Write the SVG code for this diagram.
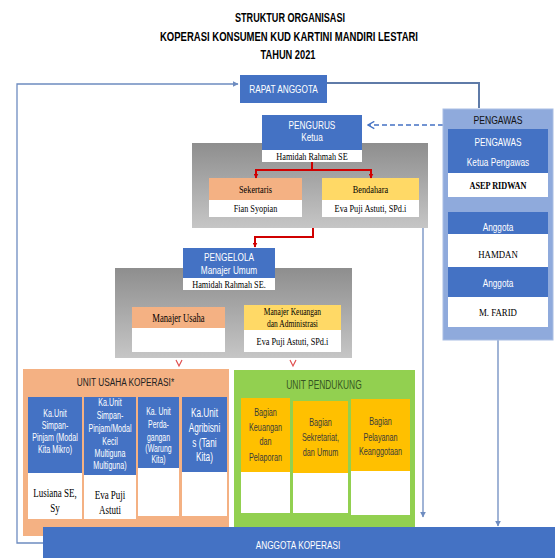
<svg xmlns="http://www.w3.org/2000/svg" width="558" height="558" viewBox="0 0 558 558">
<defs>
<linearGradient id="gray" x1="0" y1="0" x2="0" y2="1">
<stop offset="0" stop-color="#8e8e8e"/>
<stop offset="1" stop-color="#c6c6c6"/>
</linearGradient>
<marker id="arrB" viewBox="0 0 10 10" refX="9" refY="5" markerWidth="6" markerHeight="6" orient="auto" markerUnits="userSpaceOnUse">
<path d="M0,0 L10,5 L0,10 z" fill="#6E8CC0"/>
</marker>
<marker id="arrR" viewBox="0 0 10 10" refX="9" refY="5" markerWidth="5" markerHeight="5" orient="auto" markerUnits="userSpaceOnUse">
<path d="M0,0 L10,5 L0,10 z" fill="#D00000"/>
</marker>
<marker id="chev" viewBox="0 0 10 10" refX="9" refY="5" markerWidth="9" markerHeight="9" orient="auto" markerUnits="userSpaceOnUse">
<path d="M2,1 L9,5 L2,9" fill="none" stroke="#4472C4" stroke-width="1.5"/>
</marker>
</defs>
<style>
.t{font-family:"Liberation Sans",Arial,sans-serif;text-anchor:middle}
.s{font-family:"Liberation Serif","Times New Roman",serif;text-anchor:middle;fill:#000}
.w{fill:#fff}
.blue{fill:#4472C4}
.wh{fill:#fff}
.sal{fill:#F4B183}
.yel{fill:#FFD966}
.org{fill:#FFC000}
.red{fill:none;stroke:#D00000;stroke-width:2}
.con{fill:none;stroke:#6E8CC0;stroke-width:1.3}
</style>
<rect width="558" height="558" fill="#fff"/>

<g id="title" font-weight="bold">
<text class="t" x="290" y="22" font-size="13.5" textLength="110" lengthAdjust="spacingAndGlyphs">STRUKTUR ORGANISASI</text>
<text class="t" x="289" y="41" font-size="13.5" textLength="258" lengthAdjust="spacingAndGlyphs">KOPERASI  KONSUMEN KUD KARTINI MANDIRI LESTARI</text>
<text class="t" x="288" y="59" font-size="13.5" textLength="55" lengthAdjust="spacingAndGlyphs">TAHUN 2021</text>
</g>

<g id="connectors">
<path class="con" d="M43,543 H17 V84 H238" marker-end="url(#arrB)"/>
<path d="M327,83 H479 V108" fill="none" stroke="#5F7BA8" stroke-width="2"/>
<path d="M443,125 H368" fill="none" stroke="#4472C4" stroke-width="1.5" stroke-dasharray="5,3" marker-end="url(#chev)"/>
<path class="con" d="M423,228 V517" marker-end="url(#arrB)"/>
<path class="con" d="M498,340 V526" marker-end="url(#arrB)"/>
</g>

<g id="rapat-anggota">
<rect class="blue" x="240" y="75" width="87" height="28"/>
<text class="t w" x="283.5" y="93" font-size="11" transform="matrix(0.75 0 0 1 70.9 0)">RAPAT ANGGOTA</text>
</g>

<g id="pengurus-panel">
<rect x="192" y="143" width="236" height="85" fill="url(#gray)"/>
</g>

<g id="pengurus">
<rect class="blue" x="262" y="115" width="100" height="35"/>
<rect class="wh" x="262" y="150" width="100" height="12"/>
<text class="t w" x="312" y="129" font-size="11" transform="matrix(0.75 0 0 1 78 0)">PENGURUS</text>
<text class="t w" x="312" y="141.5" font-size="11" transform="matrix(0.75 0 0 1 78 0)">Ketua</text>
<text class="s" x="312" y="160" font-size="11" transform="matrix(0.75 0 0 1 78 0)">Hamidah Rahmah SE</text>
</g>

<g id="sekertaris">
<rect class="sal" x="209" y="178" width="93" height="22"/>
<rect class="wh" x="209" y="200" width="93" height="17"/>
<text class="s" x="255.5" y="193.5" font-size="11" transform="matrix(0.75 0 0 1 63.9 0)">Sekertaris</text>
<text class="s" x="255.5" y="212.5" font-size="11" transform="matrix(0.75 0 0 1 63.9 0)">Fian Syopian</text>
</g>

<g id="bendahara">
<rect class="yel" x="322" y="178" width="97" height="22"/>
<rect class="wh" x="322" y="200" width="97" height="17"/>
<text class="s" x="370.5" y="193.5" font-size="11" transform="matrix(0.75 0 0 1 92.6 0)">Bendahara</text>
<text class="s" x="370.5" y="212.5" font-size="11" transform="matrix(0.75 0 0 1 92.6 0)">Eva Puji Astuti, SPd.i</text>
</g>

<g id="red-connectors">
<path class="red" d="M312,162 V170 M255,170 H372"/>
<path class="red" d="M256,170 V178" marker-end="url(#arrR)"/>
<path class="red" d="M371,170 V178" marker-end="url(#arrR)"/>
<path class="red" d="M313,228 V237 H255 V247" marker-end="url(#arrR)"/>
<path class="red" d="M233,290 V297 M177,297 H294"/>
<path class="red" d="M178,297 V306" marker-end="url(#arrR)"/>
<path class="red" d="M293,297 V305" marker-end="url(#arrR)"/>
<path d="M176,360 L179,366 L182,360" fill="none" stroke="#E05050" stroke-width="1.2"/>
<path d="M290,360 L293,366 L296,360" fill="none" stroke="#E05050" stroke-width="1.2"/>
<path d="M496,200 L500,200 L498,205 z" fill="#D05050"/>
</g>

<g id="pengawas">
<rect x="443" y="109" width="110" height="231" fill="#8FAADC" stroke="#A9BEE3" stroke-width="1"/>
<text class="t" x="498" y="124" font-size="11.5" fill="#111" transform="matrix(0.75 0 0 1 124.5 0)">PENGAWAS</text>
<rect class="blue" x="448" y="129" width="100" height="44"/>
<text class="t w" x="498" y="146" font-size="11" transform="matrix(0.75 0 0 1 124.5 0)">PENGAWAS</text>
<text class="t w" x="498" y="166" font-size="11" transform="matrix(0.75 0 0 1 124.5 0)">Ketua Pengawas</text>
<rect class="wh" x="448" y="173" width="100" height="24"/>
<text class="s" x="498" y="189" font-size="11" font-weight="bold" transform="matrix(0.75 0 0 1 124.5 0)">ASEP RIDWAN</text>
<rect class="blue" x="448" y="212" width="100" height="22"/>
<text class="t w" x="498" y="231" font-size="11" transform="matrix(0.75 0 0 1 124.5 0)">Anggota</text>
<rect class="wh" x="448" y="234" width="100" height="33"/>
<text class="s" x="498" y="258" font-size="11" transform="matrix(0.8 0 0 1 99.6 0)">HAMDAN</text>
<rect class="blue" x="448" y="267" width="100" height="30"/>
<text class="t w" x="498" y="287" font-size="11" transform="matrix(0.75 0 0 1 124.5 0)">Anggota</text>
<rect class="wh" x="448" y="297" width="100" height="30"/>
<text class="s" x="498" y="316" font-size="11" transform="matrix(0.8 0 0 1 99.6 0)">M. FARID</text>
</g>

<g id="pengelola-panel">
<rect x="115" y="268" width="237" height="90" fill="url(#gray)"/>
</g>

<g id="pengelola">
<rect class="blue" x="183" y="248" width="92" height="30"/>
<rect class="wh" x="183" y="278" width="92" height="12"/>
<text class="t w" x="229" y="261" font-size="11" transform="matrix(0.75 0 0 1 57.25 0)">PENGELOLA</text>
<text class="t w" x="229" y="274" font-size="11" transform="matrix(0.75 0 0 1 57.25 0)">Manajer Umum</text>
<text class="s" x="229" y="288.5" font-size="11" transform="matrix(0.75 0 0 1 57.25 0)">Hamidah Rahmah SE.</text>
</g>

<g id="manajer-usaha">
<rect class="sal" x="132" y="307" width="93" height="21"/>
<rect class="wh" x="132" y="328" width="93" height="24"/>
<text class="s" x="178.5" y="322" font-size="11.5" transform="matrix(0.75 0 0 1 44.6 0)">Manajer Usaha</text>
</g>

<g id="manajer-keuangan">
<rect class="yel" x="244" y="305" width="97" height="25"/>
<rect class="wh" x="244" y="330" width="97" height="22"/>
<text class="s" x="292.5" y="315" font-size="10" transform="matrix(0.75 0 0 1 73.1 0)">Manajer Keuangan</text>
<text class="s" x="292.5" y="327" font-size="10" transform="matrix(0.75 0 0 1 73.1 0)">dan Administrasi</text>
<text class="s" x="292.5" y="345.5" font-size="11" transform="matrix(0.75 0 0 1 73.1 0)">Eva Puji Astuti, SPd.i</text>
</g>

<g id="unit-usaha">
<rect class="sal" x="23" y="369" width="206" height="167"/>
<text class="t" x="125.5" y="386" font-size="11.5" fill="#222" transform="matrix(0.72 0 0 1 35.1 0)">UNIT  USAHA KOPERASI*</text>
</g>

<g id="ka-unit-simpan-pinjam-mikro">
<rect class="blue" x="28" y="397" width="54" height="76"/>
<rect class="wh" x="28" y="473" width="54" height="46"/>
<g class="t w" font-size="10.5" transform="matrix(0.68 0 0 1 17.6 0)">
<text x="55" y="417">Ka.Unit</text>
<text x="55" y="429">Simpan-</text>
<text x="55" y="441">Pinjam  (Modal</text>
<text x="55" y="453">Kita Mikro)</text>
</g>
<g class="s" font-size="12" transform="matrix(0.75 0 0 1 13.75 0)">
<text x="55" y="497">Lusiana SE,</text>
<text x="55" y="512">Sy</text>
</g>
</g>

<g id="ka-unit-simpan-pinjam-kecil">
<rect class="blue" x="84" y="397" width="52" height="78"/>
<rect class="wh" x="84" y="475" width="52" height="44"/>
<g class="t w" font-size="10.5" transform="matrix(0.68 0 0 1 35.2 0)">
<text x="110" y="406">Ka.Unit</text>
<text x="110" y="419">Simpan-</text>
<text x="110" y="432">Pinjam/Modal</text>
<text x="110" y="445">Kecil</text>
<text x="110" y="457">Multiguna</text>
<text x="110" y="469">Multiguna)</text>
</g>
<g class="s" font-size="12" transform="matrix(0.75 0 0 1 27.5 0)">
<text x="110" y="499">Eva Puji</text>
<text x="110" y="514">Astuti</text>
</g>
</g>

<g id="ka-unit-perdagangan">
<rect class="blue" x="138" y="397" width="41" height="71"/>
<rect class="wh" x="138" y="468" width="41" height="48"/>
<g class="t w" font-size="10.5" transform="matrix(0.66 0 0 1 53.9 0)">
<text x="158.5" y="415">Ka. Unit</text>
<text x="158.5" y="428">Perda-</text>
<text x="158.5" y="441">gangan</text>
<text x="158.5" y="452">(Warung</text>
<text x="158.5" y="463">Kita)</text>
</g>
</g>

<g id="ka-unit-agribisnis">
<rect class="blue" x="182" y="397" width="45" height="75"/>
<rect class="wh" x="182" y="472" width="45" height="44"/>
<g class="t w" font-size="12.5" transform="matrix(0.66 0 0 1 69.5 0)">
<text x="204.5" y="417">Ka.Unit</text>
<text x="204.5" y="432">Agribisni</text>
<text x="204.5" y="447">s (Tani</text>
<text x="204.5" y="461">Kita)</text>
</g>
</g>

<g id="unit-pendukung">
<rect x="234" y="370" width="181" height="157" fill="#92D050"/>
<text class="t" x="324" y="389" font-size="12" fill="#375623" transform="matrix(0.7 0 0 1 97.2 0)">UNIT PENDUKUNG</text>
</g>

<g id="bagian-keuangan">
<rect class="org" x="241" y="398" width="49" height="74"/>
<rect class="wh" x="241" y="472" width="49" height="41"/>
<g class="t" font-size="11" fill="#3a3a3a" transform="matrix(0.66 0 0 1 90.3 0)">
<text x="265.5" y="416">Bagian</text>
<text x="265.5" y="431">Keuangan</text>
<text x="265.5" y="445">dan</text>
<text x="265.5" y="461">Pelaporan</text>
</g>
</g>

<g id="bagian-sekretariat">
<rect class="org" x="293" y="401" width="55" height="72"/>
<rect class="wh" x="293" y="473" width="55" height="40"/>
<g class="t" font-size="11" fill="#3a3a3a" transform="matrix(0.66 0 0 1 109 0)">
<text x="320.5" y="426">Bagian</text>
<text x="320.5" y="441">Sekretariat,</text>
<text x="320.5" y="456">dan Umum</text>
</g>
</g>

<g id="bagian-pelayanan">
<rect class="org" x="351" y="399" width="59" height="72"/>
<rect class="wh" x="351" y="471" width="59" height="44"/>
<g class="t" font-size="11" fill="#3a3a3a" transform="matrix(0.66 0 0 1 129.4 0)">
<text x="380.5" y="425">Bagian</text>
<text x="380.5" y="441">Pelayanan</text>
<text x="380.5" y="455">Keanggotaan</text>
</g>
</g>

<g id="anggota-koperasi">
<rect class="blue" x="43" y="527" width="512" height="35"/>
<text class="t w" x="298" y="549" font-size="11" transform="matrix(0.75 0 0 1 74.5 0)">ANGGOTA KOPERASI</text>
</g>
</svg>
